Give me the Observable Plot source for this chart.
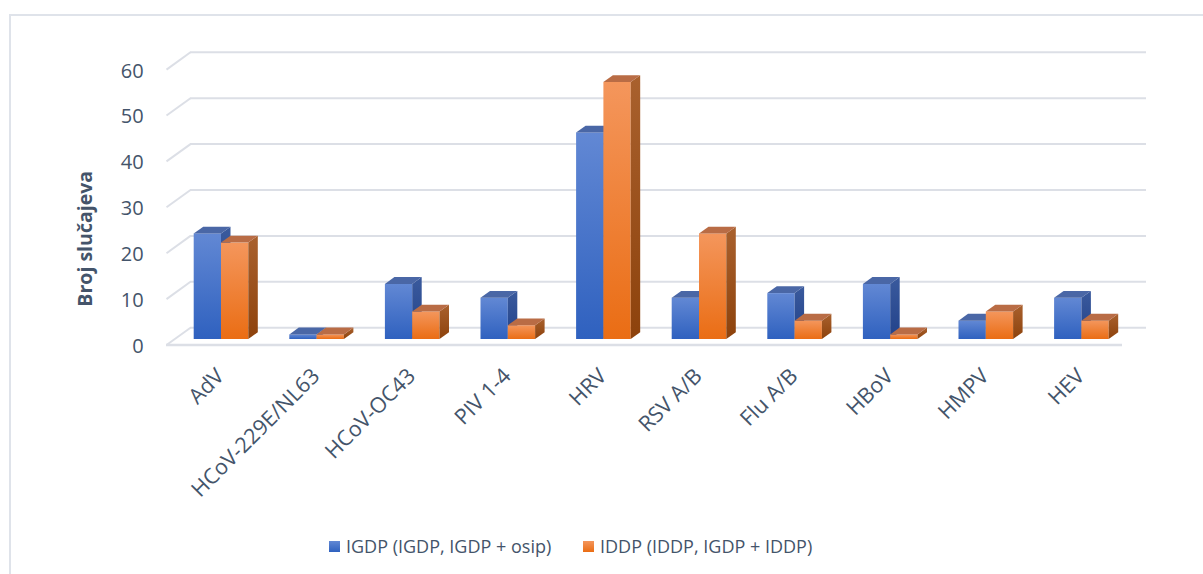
<!DOCTYPE html>
<html>
<head>
<meta charset="utf-8">
<script src="https://cdn.jsdelivr.net/npm/d3@7"></script>
<script src="https://cdn.jsdelivr.net/npm/@observablehq/plot@0.6"></script>
<style>
  body { margin: 0; background: #fff; font-family: "Open Sans", sans-serif; }
  #wrap { position: relative; width: 1203px; height: 574px; overflow: hidden; background: #fff; }
  #chart { position: absolute; left: 0; top: 0; }
  #chart svg { display: block; }
  #frame { position: absolute; left: 9px; top: 14px; width: 1400px; height: 800px; border: 2px solid #dfe3ea; box-sizing: border-box; pointer-events: none; }
  #legend { position: absolute; top: 531px; left: 0; width: 1203px; height: 30px; font-family: "Open Sans", sans-serif; font-size: 18px; color: #44546a; }
  .item { position: absolute; top: 0; display: flex; align-items: center; height: 30px; white-space: nowrap; }
  .sw { width: 11px; height: 11px; margin-right: 6px; }
</style>
</head>
<body>
<div id="wrap">
  <div id="chart"></div>
  <div id="legend"></div>
  <div id="frame"></div>
</div>
<script>
// ---- data ----
const categories = ["AdV", "HCoV-229E/NL63", "HCoV-OC43", "PIV 1-4", "HRV", "RSV A/B", "Flu A/B", "HBoV", "HMPV", "HEV"];
const igdp = [23, 1, 12, 9, 45, 9, 10, 12, 4, 9];
const iddp = [21, 1, 6, 3, 56, 23, 4, 1, 6, 4];
const yTicks = [0, 10, 20, 30, 40, 50, 60];
const seriesNames = ["IGDP (IGDP, IGDP + osip)", "IDDP (IDDP, IGDP + IDDP)"];
const yTitle = "Broj slučajeva";

// ---- layout ----
const W = 1203, H = 520;
const mL = 173.2, mR = 73.8, mT = 63.6, mB = H - 339;
const kx = (W - mL - mR) / 10;        // px per category unit
const ky = (H - mT - mB) / 60;        // px per value unit
const ux = px => px / kx;
const uy = px => -px / ky;            // pixel offset (down +) -> value offset
const BW = ux(27.3);                  // bar width
const DX = ux(9.5), DY = uy(-6.8);    // bar depth
const textColor = "#44546a";
const gridColor = "#dcdfe6";

const bars = categories.flatMap((c, i) => [
  {cat: c, i, s: 0, v: igdp[i]},
  {cat: c, i, s: 1, v: iddp[i]}
]).map((b, k) => {
  const x1 = b.s === 0 ? b.i - BW : b.i;
  return {...b, id: k, x1, x2: x1 + BW};
});

const sidePts = bars.flatMap(b => [
  {id: b.id, s: b.s, x: b.x2, y1: 0, y2: b.v},
  {id: b.id, s: b.s, x: b.x2 + DX, y1: DY, y2: b.v + DY}
]);
const topPts = bars.flatMap(b => [
  {id: b.id, s: b.s, y: b.v, x1: b.x1, x2: b.x2},
  {id: b.id, s: b.s, y: b.v + DY, x1: b.x1 + DX, x2: b.x2 + DX}
]);

function barMarks(s, front, side, top) {
  return [
    Plot.rect(bars.filter(d => d.s === s), {x1: "x1", x2: "x2", y1: () => 0, y2: "v", fill: front}),
    Plot.areaY(sidePts.filter(d => d.s === s), {x: "x", y1: "y1", y2: "y2", z: "id", fill: side}),
    Plot.areaX(topPts.filter(d => d.s === s), {y: "y", x1: "x1", x2: "x2", z: "id", fill: top})
  ];
}

const svg = Plot.plot({
  width: W,
  height: H,
  marginLeft: mL,
  marginRight: mR,
  marginTop: mT,
  marginBottom: mB,
  style: {fontFamily: "'Open Sans', sans-serif", background: "transparent", overflow: "visible"},
  x: {type: "linear", domain: [-0.5, 9.5], axis: null},
  y: {type: "linear", domain: [0, 60], axis: null},
  marks: [
    // back wall gridlines
    Plot.ruleY(yTicks, {y: d => d, x1: () => -0.5, x2: () => 9.5, dx: 16.8, dy: -11.8, stroke: gridColor, strokeWidth: 2}),
    // left perspective edges
    Plot.link(yTicks, {x1: () => -0.5 + ux(-7.2), y1: d => d + uy(5.5), x2: () => -0.5 + ux(16.8), y2: d => d + uy(-11.8), stroke: gridColor, strokeWidth: 2}),
    // front floor edge
    Plot.ruleY([0], {y: d => d, x1: () => -0.5, x2: () => 9.5, dx: -7.2, dy: 5.5, stroke: gridColor, strokeWidth: 2.5}),
    // bars
    ...barMarks(0, "url(#gBlue)", "url(#gBlueSide)", "#4a67a6"),
    ...barMarks(1, "url(#gOrange)", "url(#gOrangeSide)", "#b96c45"),
    // y tick labels
    Plot.text(yTicks, {x: () => -0.5, y: d => d, text: d => String(d), dx: -30, dy: 7, textAnchor: "end", fontSize: 20, fill: textColor}),
    // category labels
    Plot.text(categories, {x: (d, i) => i, y: () => 0, text: d => d, dx: -1, dy: 33, rotate: -45, textAnchor: "end", fontSize: 21.5, fill: textColor}),
    // y axis title
    Plot.text([yTitle], {frameAnchor: "left", dx: -88, dy: 37, rotate: -90, textAnchor: "middle", fontWeight: "bold", fontSize: 19.5, fill: textColor})
  ]
});

d3.select(svg).insert("defs", ":first-child").html(`
  <linearGradient id="gBlue" x1="0" y1="0" x2="0" y2="1">
    <stop offset="0" stop-color="#6288d4"/><stop offset="1" stop-color="#2f61bf"/>
  </linearGradient>
  <linearGradient id="gBlueSide" x1="0" y1="0" x2="0" y2="1">
    <stop offset="0" stop-color="#3a5a9d"/><stop offset="1" stop-color="#22428a"/>
  </linearGradient>
  <linearGradient id="gOrange" x1="0" y1="0" x2="0" y2="1">
    <stop offset="0" stop-color="#f4965c"/><stop offset="1" stop-color="#ea6d14"/>
  </linearGradient>
  <linearGradient id="gOrangeSide" x1="0" y1="0" x2="0" y2="1">
    <stop offset="0" stop-color="#a9612e"/><stop offset="1" stop-color="#8d420c"/>
  </linearGradient>
`);
document.getElementById("chart").appendChild(svg);

// legend
const legend = document.getElementById("legend");
const swatches = ["linear-gradient(#6288d4,#2f61bf)", "linear-gradient(#f4965c,#ea6d14)"];
const lefts = [329, 583];
seriesNames.forEach((name, k) => {
  const item = document.createElement("div");
  item.className = "item";
  item.style.left = lefts[k] + "px";
  const sw = document.createElement("div");
  sw.className = "sw";
  sw.style.background = swatches[k];
  const t = document.createElement("span");
  t.textContent = name;
  item.appendChild(sw);
  item.appendChild(t);
  legend.appendChild(item);
});
</script>
</body>
</html>
